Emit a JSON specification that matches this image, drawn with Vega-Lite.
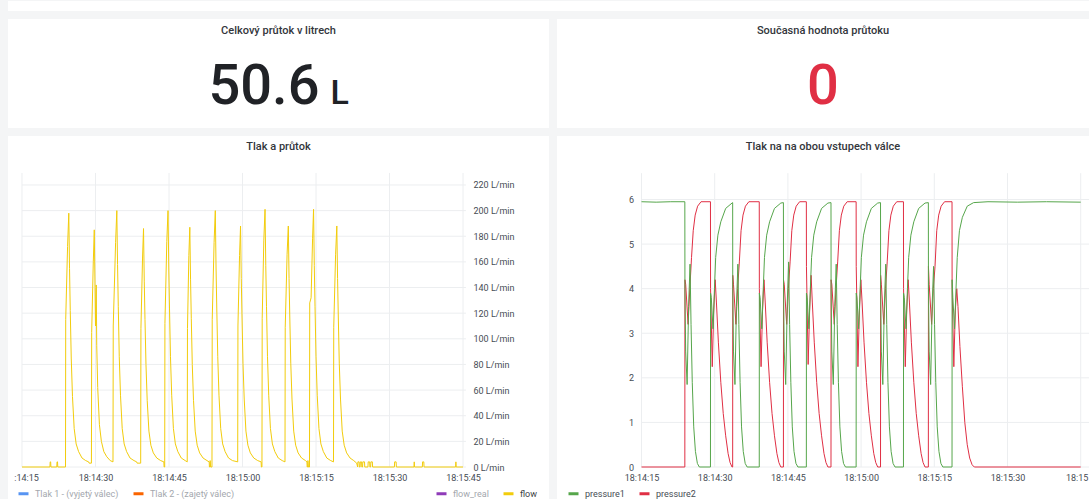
{
"$schema": "https://vega.github.io/schema/vega-lite/v6.json",
"background": "#f4f5f6",
"padding": {"left": 8, "top": 0, "right": 0, "bottom": 0},
"spacing": 8,
"config": {
  "font": "Roboto",
  "view": {"fill": "white", "stroke": null},
  "title": {"font": "Roboto", "fontSize": 11, "fontWeight": 500, "color": "#33363b", "anchor": "middle", "frame": "group", "baseline": "middle", "offset": -16},
  "axis": {"grid": false, "domain": false, "ticks": false, "tickSize": 0, "labelFont": "Roboto", "labelFontSize": 9, "labelColor": "#464c54", "title": null, "labelFlush": false, "labelOverlap": false, "labelBound": false},
  "legend": {"orient": "none", "direction": "horizontal", "title": null, "symbolType": "stroke", "symbolStrokeWidth": 3, "symbolSize": 100, "labelFont": "Roboto", "labelFontSize": 9, "labelOffset": 5, "columnPadding": 8, "padding": 0, "symbolOpacity": 1}
},
"datasets": {
  "gx": [{"t":15},{"t":30},{"t":45},{"t":60},{"t":75},{"t":90},{"t":105}],
  "gyL": [{"v":0},{"v":20},{"v":40},{"v":60},{"v":80},{"v":100},{"v":120},{"v":140},{"v":160},{"v":180},{"v":200},{"v":220}],
  "gyR": [{"v":0},{"v":1},{"v":2},{"v":3},{"v":4},{"v":5},{"v":6}],
  "flow": [
{"t":15,"v":0},{"t":20.7,"v":0},{"t":20.75,"v":4},{"t":20.85,"v":4},{"t":20.9,"v":0},{"t":22.1,"v":0},{"t":22.15,"v":4},{"t":22.25,"v":4},{"t":22.3,"v":0},{"t":23.88,"v":0},
{"t":23.92,"v":115},{"t":24.3,"v":172},{"t":24.55,"v":198},{"t":24.7,"v":155},{"t":24.85,"v":122},{"t":25.05,"v":85},{"t":25.3,"v":55},{"t":25.65,"v":30},{"t":26.05,"v":18},{"t":26.55,"v":12},{"t":27.25,"v":7},{"t":28.0,"v":5},{"t":28.6,"v":4},{"t":28.7,"v":3},{"t":29.17,"v":3},
{"t":29.22,"v":105},{"t":29.55,"v":160},{"t":29.75,"v":185},{"t":29.9,"v":140},{"t":30.0,"v":110},{"t":30.15,"v":142},{"t":30.25,"v":95},{"t":30.45,"v":62},{"t":30.8,"v":33},{"t":31.2,"v":20},{"t":31.7,"v":12},{"t":32.3,"v":8},{"t":33.0,"v":5},{"t":33.57,"v":4},
{"t":33.62,"v":110},{"t":34.1,"v":175},{"t":34.35,"v":200},{"t":34.5,"v":158},{"t":34.65,"v":125},{"t":34.85,"v":86},{"t":35.1,"v":56},{"t":35.45,"v":30},{"t":35.85,"v":18},{"t":36.35,"v":12},{"t":37.05,"v":7},{"t":37.85,"v":5},{"t":38.4,"v":4},{"t":38.5,"v":3},{"t":39.22,"v":3},
{"t":39.27,"v":108},{"t":39.6,"v":163},{"t":39.8,"v":186},{"t":39.95,"v":145},{"t":40.1,"v":115},{"t":40.3,"v":80},{"t":40.55,"v":52},{"t":40.9,"v":28},{"t":41.3,"v":17},{"t":41.8,"v":11},{"t":42.5,"v":7},{"t":43.3,"v":5},{"t":43.95,"v":4},{"t":44.0,"v":0},{"t":44.12,"v":0},
{"t":44.17,"v":112},{"t":44.55,"v":176},{"t":44.8,"v":200},{"t":44.95,"v":156},{"t":45.1,"v":124},{"t":45.3,"v":86},{"t":45.55,"v":56},{"t":45.9,"v":30},{"t":46.3,"v":18},{"t":46.8,"v":12},{"t":47.5,"v":7},{"t":48.3,"v":5},{"t":48.72,"v":4},
{"t":48.77,"v":108},{"t":49.05,"v":165},{"t":49.25,"v":187},{"t":49.4,"v":146},{"t":49.55,"v":116},{"t":49.75,"v":80},{"t":50.0,"v":52},{"t":50.35,"v":28},{"t":50.75,"v":17},{"t":51.25,"v":11},{"t":51.95,"v":7},{"t":52.75,"v":5},{"t":53.2,"v":4},{"t":53.25,"v":0},{"t":53.35,"v":0},{"t":53.4,"v":5},{"t":53.5,"v":0},{"t":53.77,"v":0},
{"t":53.82,"v":115},{"t":54.2,"v":175},{"t":54.45,"v":200},{"t":54.6,"v":156},{"t":54.75,"v":124},{"t":54.95,"v":86},{"t":55.2,"v":56},{"t":55.55,"v":30},{"t":55.95,"v":18},{"t":56.45,"v":12},{"t":57.15,"v":7},{"t":57.95,"v":5},{"t":59.02,"v":4},
{"t":59.07,"v":110},{"t":59.4,"v":165},{"t":59.6,"v":188},{"t":59.75,"v":147},{"t":59.9,"v":117},{"t":60.1,"v":81},{"t":60.35,"v":53},{"t":60.7,"v":28},{"t":61.1,"v":17},{"t":61.6,"v":11},{"t":62.3,"v":7},{"t":63.1,"v":5},{"t":63.8,"v":4},{"t":63.85,"v":0},{"t":63.97,"v":0},
{"t":64.02,"v":116},{"t":64.35,"v":177},{"t":64.6,"v":201},{"t":64.75,"v":157},{"t":64.9,"v":125},{"t":65.1,"v":86},{"t":65.35,"v":56},{"t":65.7,"v":30},{"t":66.1,"v":18},{"t":66.6,"v":12},{"t":67.3,"v":7},{"t":68.1,"v":5},{"t":68.67,"v":4},
{"t":68.72,"v":109},{"t":69.1,"v":166},{"t":69.35,"v":188},{"t":69.5,"v":147},{"t":69.65,"v":117},{"t":69.85,"v":81},{"t":70.1,"v":53},{"t":70.45,"v":28},{"t":70.85,"v":17},{"t":71.35,"v":11},{"t":72.05,"v":7},{"t":72.85,"v":5},{"t":73.15,"v":4},{"t":73.2,"v":0},{"t":73.3,"v":0},{"t":73.35,"v":5},{"t":73.45,"v":0},{"t":73.67,"v":0},
{"t":73.72,"v":128},{"t":74.0,"v":132},{"t":74.3,"v":178},{"t":74.5,"v":201},{"t":74.65,"v":157},{"t":74.8,"v":125},{"t":75.0,"v":86},{"t":75.25,"v":56},{"t":75.6,"v":30},{"t":76.0,"v":18},{"t":76.5,"v":12},{"t":77.2,"v":7},{"t":78.0,"v":5},{"t":78.57,"v":4},
{"t":78.62,"v":109},{"t":79.0,"v":166},{"t":79.25,"v":188},{"t":79.4,"v":147},{"t":79.55,"v":117},{"t":79.75,"v":81},{"t":80.0,"v":53},{"t":80.35,"v":28},{"t":80.75,"v":17},{"t":81.25,"v":11},{"t":81.95,"v":7},{"t":82.7,"v":5},{"t":83.3,"v":3},
{"t":83.5,"v":0},{"t":83.55,"v":4},{"t":83.8,"v":4},{"t":83.85,"v":0},{"t":84.0,"v":0},{"t":84.05,"v":4},{"t":84.3,"v":4},{"t":84.35,"v":0},{"t":84.5,"v":0},{"t":84.55,"v":4},{"t":84.9,"v":4},{"t":84.95,"v":0},{"t":85.6,"v":0},{"t":85.65,"v":4},{"t":85.95,"v":4},{"t":86.0,"v":0},{"t":86.15,"v":0},{"t":86.2,"v":4},{"t":86.5,"v":4},{"t":86.55,"v":0},{"t":91.0,"v":0},{"t":91.05,"v":4},{"t":91.35,"v":4},{"t":91.4,"v":0},{"t":95.0,"v":0},{"t":95.05,"v":4},{"t":95.1,"v":0},{"t":96.7,"v":0},{"t":96.75,"v":4},{"t":97.0,"v":4},{"t":97.05,"v":0},{"t":103.5,"v":0},{"t":103.55,"v":4},{"t":103.6,"v":0},{"t":105,"v":0}
  ],
  "p1": [
{"t":15,"v":5.95},{"t":18,"v":5.94},{"t":21,"v":5.95},{"t":23.88,"v":5.95},
{"t":23.9,"v":4.0},{"t":24.05,"v":2.6},{"t":24.35,"v":1.85},{"t":24.65,"v":3.6},{"t":24.95,"v":4.55},{"t":25.15,"v":3.2},{"t":25.4,"v":1.9},{"t":25.7,"v":0.9},{"t":26.05,"v":0.35},{"t":26.45,"v":0.08},{"t":26.85,"v":0},
{"t":29.13,"v":0},{"t":29.15,"v":3.9},{"t":29.3,"v":3.8},{"t":29.65,"v":3.1},{"t":29.95,"v":4.0},{"t":30.2,"v":4.7},{"t":30.65,"v":5.2},{"t":31.25,"v":5.5},{"t":32.25,"v":5.8},{"t":33.55,"v":5.92},{"t":33.68,"v":5.93},
{"t":33.7,"v":4.0},{"t":33.85,"v":2.6},{"t":34.15,"v":1.85},{"t":34.45,"v":3.6},{"t":34.75,"v":4.55},{"t":34.95,"v":3.2},{"t":35.2,"v":1.9},{"t":35.5,"v":0.9},{"t":35.85,"v":0.35},{"t":36.25,"v":0.08},{"t":36.65,"v":0},
{"t":39.13,"v":0},{"t":39.15,"v":3.9},{"t":39.3,"v":3.8},{"t":39.65,"v":3.1},{"t":39.95,"v":4.0},{"t":40.2,"v":4.7},{"t":40.65,"v":5.2},{"t":41.25,"v":5.5},{"t":42.25,"v":5.8},{"t":43.55,"v":5.92},{"t":44.08,"v":5.93},
{"t":44.1,"v":4.1},{"t":44.25,"v":2.6},{"t":44.55,"v":1.85},{"t":44.85,"v":3.6},{"t":45.15,"v":4.6},{"t":45.35,"v":3.2},{"t":45.6,"v":1.9},{"t":45.9,"v":0.9},{"t":46.25,"v":0.35},{"t":46.65,"v":0.08},{"t":47.05,"v":0},
{"t":48.78,"v":0},{"t":48.8,"v":3.9},{"t":48.95,"v":3.8},{"t":49.3,"v":3.1},{"t":49.6,"v":4.0},{"t":49.85,"v":4.7},{"t":50.3,"v":5.2},{"t":50.9,"v":5.5},{"t":51.9,"v":5.8},{"t":53.2,"v":5.92},{"t":53.83,"v":5.93},
{"t":53.85,"v":4.0},{"t":54.0,"v":2.6},{"t":54.3,"v":1.85},{"t":54.6,"v":3.6},{"t":54.9,"v":4.55},{"t":55.1,"v":3.2},{"t":55.35,"v":1.9},{"t":55.65,"v":0.9},{"t":56.0,"v":0.35},{"t":56.4,"v":0.08},{"t":56.8,"v":0},
{"t":58.98,"v":0},{"t":59.0,"v":3.9},{"t":59.15,"v":3.8},{"t":59.5,"v":3.1},{"t":59.8,"v":4.0},{"t":60.05,"v":4.7},{"t":60.5,"v":5.2},{"t":61.1,"v":5.5},{"t":62.1,"v":5.8},{"t":63.4,"v":5.92},{"t":63.98,"v":5.93},
{"t":64.0,"v":4.0},{"t":64.15,"v":2.6},{"t":64.45,"v":1.85},{"t":64.75,"v":3.6},{"t":65.05,"v":4.55},{"t":65.25,"v":3.2},{"t":65.5,"v":1.9},{"t":65.8,"v":0.9},{"t":66.15,"v":0.35},{"t":66.55,"v":0.08},{"t":66.95,"v":0},
{"t":68.68,"v":0},{"t":68.7,"v":3.9},{"t":68.85,"v":3.8},{"t":69.2,"v":3.1},{"t":69.5,"v":4.0},{"t":69.75,"v":4.7},{"t":70.2,"v":5.2},{"t":70.8,"v":5.5},{"t":71.8,"v":5.8},{"t":73.1,"v":5.92},{"t":73.78,"v":5.93},
{"t":73.8,"v":4.0},{"t":73.95,"v":2.6},{"t":74.25,"v":1.85},{"t":74.55,"v":3.6},{"t":74.85,"v":4.5},{"t":75.05,"v":3.2},{"t":75.3,"v":1.9},{"t":75.6,"v":0.9},{"t":75.95,"v":0.35},{"t":76.35,"v":0.08},{"t":76.75,"v":0},
{"t":78.63,"v":0},{"t":78.65,"v":4.2},{"t":78.8,"v":3.8},{"t":79.15,"v":3.1},{"t":79.45,"v":4.0},{"t":79.7,"v":4.7},{"t":80.15,"v":5.3},{"t":80.75,"v":5.6},{"t":81.75,"v":5.85},{"t":83.05,"v":5.93},{"t":86,"v":5.95},{"t":92,"v":5.94},{"t":98,"v":5.95},{"t":105,"v":5.94}
  ],
  "p2": [
{"t":15,"v":0},{"t":23.88,"v":0},
{"t":23.9,"v":4.2},{"t":24.05,"v":4.1},{"t":24.55,"v":3.2},{"t":24.9,"v":4.0},{"t":25.25,"v":4.7},{"t":25.6,"v":5.3},{"t":26.0,"v":5.65},{"t":26.5,"v":5.85},{"t":27.2,"v":5.95},{"t":29.13,"v":5.95},
{"t":29.15,"v":4.0},{"t":29.5,"v":2.25},{"t":29.8,"v":3.5},{"t":30.1,"v":4.2},{"t":30.35,"v":3.7},{"t":30.75,"v":2.8},{"t":31.25,"v":1.9},{"t":31.75,"v":1.2},{"t":32.25,"v":0.7},{"t":32.75,"v":0.3},{"t":33.15,"v":0.1},{"t":33.55,"v":0},{"t":33.68,"v":0},
{"t":33.7,"v":4.3},{"t":33.85,"v":4.1},{"t":34.35,"v":3.2},{"t":34.7,"v":4.0},{"t":35.05,"v":4.6},{"t":35.4,"v":5.3},{"t":35.8,"v":5.65},{"t":36.3,"v":5.85},{"t":37.0,"v":5.95},{"t":39.13,"v":5.95},
{"t":39.15,"v":4.0},{"t":39.5,"v":2.25},{"t":39.8,"v":3.5},{"t":40.1,"v":4.2},{"t":40.35,"v":3.7},{"t":40.75,"v":2.8},{"t":41.25,"v":1.9},{"t":41.75,"v":1.2},{"t":42.25,"v":0.7},{"t":42.75,"v":0.3},{"t":43.15,"v":0.1},{"t":43.55,"v":0},{"t":44.08,"v":0},
{"t":44.1,"v":4.2},{"t":44.25,"v":4.1},{"t":44.75,"v":3.2},{"t":45.1,"v":4.0},{"t":45.45,"v":4.6},{"t":45.8,"v":5.3},{"t":46.2,"v":5.65},{"t":46.7,"v":5.85},{"t":47.4,"v":5.95},{"t":48.78,"v":5.95},
{"t":48.8,"v":4.5},{"t":49.15,"v":2.3},{"t":49.45,"v":3.5},{"t":49.75,"v":4.3},{"t":50.0,"v":3.7},{"t":50.4,"v":2.8},{"t":50.9,"v":1.9},{"t":51.4,"v":1.2},{"t":51.9,"v":0.7},{"t":52.4,"v":0.3},{"t":52.8,"v":0.1},{"t":53.2,"v":0},{"t":53.83,"v":0},
{"t":53.85,"v":4.2},{"t":54.0,"v":4.1},{"t":54.5,"v":3.2},{"t":54.85,"v":4.0},{"t":55.2,"v":4.6},{"t":55.55,"v":5.3},{"t":55.95,"v":5.65},{"t":56.45,"v":5.85},{"t":57.15,"v":5.95},{"t":58.98,"v":5.95},
{"t":59.0,"v":4.5},{"t":59.35,"v":2.25},{"t":59.65,"v":3.5},{"t":59.95,"v":4.2},{"t":60.2,"v":3.7},{"t":60.6,"v":2.8},{"t":61.1,"v":1.9},{"t":61.6,"v":1.2},{"t":62.1,"v":0.7},{"t":62.6,"v":0.3},{"t":63.0,"v":0.1},{"t":63.4,"v":0},{"t":63.98,"v":0},
{"t":64.0,"v":4.3},{"t":64.15,"v":4.1},{"t":64.65,"v":3.2},{"t":65.0,"v":4.0},{"t":65.35,"v":4.6},{"t":65.7,"v":5.3},{"t":66.1,"v":5.65},{"t":66.6,"v":5.85},{"t":67.3,"v":5.95},{"t":68.68,"v":5.95},
{"t":68.7,"v":4.0},{"t":69.05,"v":2.25},{"t":69.35,"v":3.5},{"t":69.65,"v":4.2},{"t":69.9,"v":3.7},{"t":70.3,"v":2.8},{"t":70.8,"v":1.9},{"t":71.3,"v":1.2},{"t":71.8,"v":0.7},{"t":72.3,"v":0.3},{"t":72.7,"v":0.1},{"t":73.1,"v":0},{"t":73.78,"v":0},
{"t":73.8,"v":4.5},{"t":73.95,"v":4.1},{"t":74.45,"v":3.2},{"t":74.8,"v":4.0},{"t":75.15,"v":4.5},{"t":75.5,"v":5.3},{"t":75.9,"v":5.65},{"t":76.4,"v":5.85},{"t":77.1,"v":5.95},{"t":78.63,"v":5.95},
{"t":78.65,"v":4.0},{"t":79.0,"v":2.25},{"t":79.3,"v":3.5},{"t":79.6,"v":4.0},{"t":79.85,"v":3.6},{"t":80.25,"v":2.7},{"t":80.75,"v":1.8},{"t":81.25,"v":1.0},{"t":81.75,"v":0.5},{"t":82.25,"v":0.2},{"t":82.75,"v":0.05},{"t":83.2,"v":0},{"t":105,"v":0}
  ]
},
"resolve": {"scale": {"x": "independent", "y": "independent", "color": "independent", "stroke": "independent"}, "legend": {"color": "independent", "stroke": "independent"}},
"vconcat": [
  {
    "width": 1081, "height": 10,
    "view": {"stroke": null, "fill": "white"},
    "data": {"values": [{"s": ""}]},
    "mark": {"type": "text"},
    "encoding": {"text": {"field": "s"}}
  },
  {
    "hconcat": [
      {
        "width": 541, "height": 109,
        "view": {"fill": "white", "stroke": null},
        "title": {"text": "Celkový průtok v litrech", "offset": -17},
        "data": {"values": [{"v": "50.6", "u": "L"}]},
        "layer": [
          {"mark": {"type": "text", "align": "right", "baseline": "alphabetic", "dx": 41, "dy": 30, "fontSize": 56, "font": "Roboto", "fontWeight": 500, "color": "#202226"}, "encoding": {"text": {"field": "v"}}},
          {"mark": {"type": "text", "align": "left", "baseline": "alphabetic", "dx": 52, "dy": 30, "fontSize": 34, "font": "Roboto", "fontWeight": 500, "color": "#202226"}, "encoding": {"text": {"field": "u"}}}
        ]
      },
      {
        "width": 532, "height": 109,
        "view": {"fill": "white", "stroke": null},
        "title": {"text": "Současná hodnota průtoku", "offset": -17},
        "data": {"values": [{"v": "0"}]},
        "mark": {"type": "text", "align": "center", "baseline": "alphabetic", "dy": 30, "fontSize": 56, "font": "Roboto", "fontWeight": 500, "color": "#E02F44"},
        "encoding": {"text": {"field": "v"}}
      }
    ],
    "spacing": 8
  },
  {
    "hconcat": [
      {
        "width": 541, "height": 364,
        "view": {"fill": "white", "stroke": null},
        "title": {"text": "Tlak a průtok", "offset": -16},
        "layer": [
          {
            "data": {"name": "gx"},
            "mark": {"type": "rule", "color": "#eceef0", "strokeWidth": 1},
            "encoding": {
              "x": {"field": "t", "type": "quantitative", "scale": {"domain": [12.143, 122.55], "nice": false, "zero": false},
                "axis": {"orient": "bottom", "offset": -27, "labelPadding": 0, "values": [15, 30, 45, 60, 75, 90, 105],
                  "labelOffset": {"condition": {"test": "datum.value == 15", "value": 4}, "value": 0},
                  "labelExpr": "datum.value == 15 ? ':14:15' : (datum.value < 60 ? '18:14:' + datum.value : (datum.value == 60 ? '18:15:00' : '18:15:' + (datum.value - 60)))"}},
              "y": {"datum": 0, "type": "quantitative", "scale": {"domain": [-25.74, 258.2], "nice": false, "zero": false},
                "axis": {"orient": "right", "offset": -83, "labelPadding": 7, "values": [0, 20, 40, 60, 80, 100, 120, 140, 160, 180, 200, 220], "labelExpr": "datum.value + ' L/min'"}},
              "y2": {"datum": 229.4}
            }
          },
          {
            "data": {"name": "gyL"},
            "mark": {"type": "rule", "color": "#eceef0", "strokeWidth": 1},
            "encoding": {
              "y": {"field": "v", "type": "quantitative", "scale": {"domain": [-25.74, 258.2], "nice": false, "zero": false},
                "axis": {"orient": "right", "offset": -83, "labelPadding": 7, "values": [0, 20, 40, 60, 80, 100, 120, 140, 160, 180, 200, 220], "labelExpr": "datum.value + ' L/min'"}},
              "x": {"datum": 15, "type": "quantitative", "scale": {"domain": [12.143, 122.55], "nice": false, "zero": false},
                "axis": {"orient": "bottom", "offset": -27, "labelPadding": 0, "values": [15, 30, 45, 60, 75, 90, 105],
                  "labelOffset": {"condition": {"test": "datum.value == 15", "value": 4}, "value": 0},
                  "labelExpr": "datum.value == 15 ? ':14:15' : (datum.value < 60 ? '18:14:' + datum.value : (datum.value == 60 ? '18:15:00' : '18:15:' + (datum.value - 60)))"}},
              "x2": {"datum": 105.6}
            }
          },
          {
            "data": {"name": "flow"},
            "mark": {"type": "line", "opacity": 0},
            "encoding": {
              "x": {"field": "t", "type": "quantitative", "scale": {"domain": [12.143, 122.55], "nice": false, "zero": false},
                "axis": {"orient": "bottom", "offset": -27, "labelPadding": 0, "values": [15, 30, 45, 60, 75, 90, 105],
                  "labelOffset": {"condition": {"test": "datum.value == 15", "value": 4}, "value": 0},
                  "labelExpr": "datum.value == 15 ? ':14:15' : (datum.value < 60 ? '18:14:' + datum.value : (datum.value == 60 ? '18:15:00' : '18:15:' + (datum.value - 60)))"}},
              "y": {"field": "v", "type": "quantitative", "scale": {"domain": [-25.74, 258.2], "nice": false, "zero": false},
                "axis": {"orient": "right", "offset": -83, "labelPadding": 7, "values": [0, 20, 40, 60, 80, 100, 120, 140, 160, 180, 200, 220], "labelExpr": "datum.value + ' L/min'"}},
              "color": {"datum": "Tlak 1 - (vyjetý válec)", "scale": {"domain": ["Tlak 1 - (vyjetý válec)", "Tlak 2 - (zajetý válec)"], "range": ["#5794F2", "#FA6400"]},
                "legend": {"legendX": 9, "legendY": 351, "labelColor": "#a3a7ad", "symbolOpacity": 1}}
            }
          },
          {
            "data": {"name": "flow"},
            "mark": {"type": "line", "strokeWidth": 1},
            "encoding": {
              "x": {"field": "t", "type": "quantitative", "scale": {"domain": [12.143, 122.55], "nice": false, "zero": false},
                "axis": {"orient": "bottom", "offset": -27, "labelPadding": 0, "values": [15, 30, 45, 60, 75, 90, 105],
                  "labelOffset": {"condition": {"test": "datum.value == 15", "value": 4}, "value": 0},
                  "labelExpr": "datum.value == 15 ? ':14:15' : (datum.value < 60 ? '18:14:' + datum.value : (datum.value == 60 ? '18:15:00' : '18:15:' + (datum.value - 60)))"}},
              "y": {"field": "v", "type": "quantitative", "scale": {"domain": [-25.74, 258.2], "nice": false, "zero": false},
                "axis": {"orient": "right", "offset": -83, "labelPadding": 7, "values": [0, 20, 40, 60, 80, 100, 120, 140, 160, 180, 200, 220], "labelExpr": "datum.value + ' L/min'"}},
              "stroke": {"datum": "flow", "scale": {"domain": ["flow_real", "flow"], "range": ["#8F3BB8", "#F2CC0C"]},
                "legend": {"legendX": 427, "legendY": 351, "encode": {"labels": {"update": {"fill": {"signal": "datum.label == 'flow' ? '#3b3f45' : '#a3a7ad'"}}}}}}
            }
          }
        ]
      },
      {
        "width": 532, "height": 364,
        "view": {"fill": "white", "stroke": null},
        "title": {"text": "Tlak na na obou vstupech válce", "offset": -16},
        "layer": [
          {
            "data": {"name": "gx"},
            "mark": {"type": "rule", "color": "#eceef0", "strokeWidth": 1},
            "encoding": {
              "x": {"field": "t", "type": "quantitative", "scale": {"domain": [-2.316, 106.7], "nice": false, "zero": false},
                "axis": {"orient": "bottom", "offset": -27, "labelPadding": 0, "values": [15, 30, 45, 60, 75, 90, 105],
                  "labelOffset": {"condition": {"test": "datum.value == 105", "value": -4}, "value": 0},
                  "labelExpr": "datum.value == 105 ? '18:15' : (datum.value < 60 ? '18:14:' + datum.value : (datum.value == 60 ? '18:15:00' : '18:15:' + (datum.value - 60)))"}},
              "y": {"datum": 0, "type": "quantitative", "scale": {"domain": [-0.74, 7.424], "nice": false, "zero": false},
                "axis": {"orient": "left", "offset": -84.5, "labelPadding": 8, "values": [0, 1, 2, 3, 4, 5, 6]}},
              "y2": {"datum": 6.59}
            }
          },
          {
            "data": {"name": "gyR"},
            "mark": {"type": "rule", "color": "#eceef0", "strokeWidth": 1},
            "encoding": {
              "y": {"field": "v", "type": "quantitative", "scale": {"domain": [-0.74, 7.424], "nice": false, "zero": false},
                "axis": {"orient": "left", "offset": -84.5, "labelPadding": 8, "values": [0, 1, 2, 3, 4, 5, 6]}},
              "x": {"datum": 15, "type": "quantitative", "scale": {"domain": [-2.316, 106.7], "nice": false, "zero": false},
                "axis": {"orient": "bottom", "offset": -27, "labelPadding": 0, "values": [15, 30, 45, 60, 75, 90, 105],
                  "labelOffset": {"condition": {"test": "datum.value == 105", "value": -4}, "value": 0},
                  "labelExpr": "datum.value == 105 ? '18:15' : (datum.value < 60 ? '18:14:' + datum.value : (datum.value == 60 ? '18:15:00' : '18:15:' + (datum.value - 60)))"}},
              "x2": {"datum": 106.7}
            }
          },
          {
            "data": {"name": "p2"},
            "mark": {"type": "line", "strokeWidth": 1},
            "encoding": {
              "x": {"field": "t", "type": "quantitative", "scale": {"domain": [-2.316, 106.7], "nice": false, "zero": false},
                "axis": {"orient": "bottom", "offset": -27, "labelPadding": 0, "values": [15, 30, 45, 60, 75, 90, 105],
                  "labelOffset": {"condition": {"test": "datum.value == 105", "value": -4}, "value": 0},
                  "labelExpr": "datum.value == 105 ? '18:15' : (datum.value < 60 ? '18:14:' + datum.value : (datum.value == 60 ? '18:15:00' : '18:15:' + (datum.value - 60)))"}},
              "y": {"field": "v", "type": "quantitative", "scale": {"domain": [-0.74, 7.424], "nice": false, "zero": false},
                "axis": {"orient": "left", "offset": -84.5, "labelPadding": 8, "values": [0, 1, 2, 3, 4, 5, 6]}},
              "color": {"datum": "pressure2", "scale": {"domain": ["pressure1", "pressure2"], "range": ["#56A64B", "#E02F44"]},
                "legend": {"legendX": 10, "legendY": 351, "labelColor": "#464c54"}}
            }
          },
          {
            "data": {"name": "p1"},
            "mark": {"type": "line", "strokeWidth": 1},
            "encoding": {
              "x": {"field": "t", "type": "quantitative", "scale": {"domain": [-2.316, 106.7], "nice": false, "zero": false},
                "axis": {"orient": "bottom", "offset": -27, "labelPadding": 0, "values": [15, 30, 45, 60, 75, 90, 105],
                  "labelOffset": {"condition": {"test": "datum.value == 105", "value": -4}, "value": 0},
                  "labelExpr": "datum.value == 105 ? '18:15' : (datum.value < 60 ? '18:14:' + datum.value : (datum.value == 60 ? '18:15:00' : '18:15:' + (datum.value - 60)))"}},
              "y": {"field": "v", "type": "quantitative", "scale": {"domain": [-0.74, 7.424], "nice": false, "zero": false},
                "axis": {"orient": "left", "offset": -84.5, "labelPadding": 8, "values": [0, 1, 2, 3, 4, 5, 6]}},
              "color": {"datum": "pressure1", "scale": {"domain": ["pressure1", "pressure2"], "range": ["#56A64B", "#E02F44"]},
                "legend": {"legendX": 10, "legendY": 351, "labelColor": "#464c54"}}
            }
          }
        ]
      }
    ],
    "spacing": 8,
    "resolve": {"scale": {"x": "independent", "y": "independent", "color": "independent", "stroke": "independent"}, "legend": {"color": "independent", "stroke": "independent"}}
  }
]
}
